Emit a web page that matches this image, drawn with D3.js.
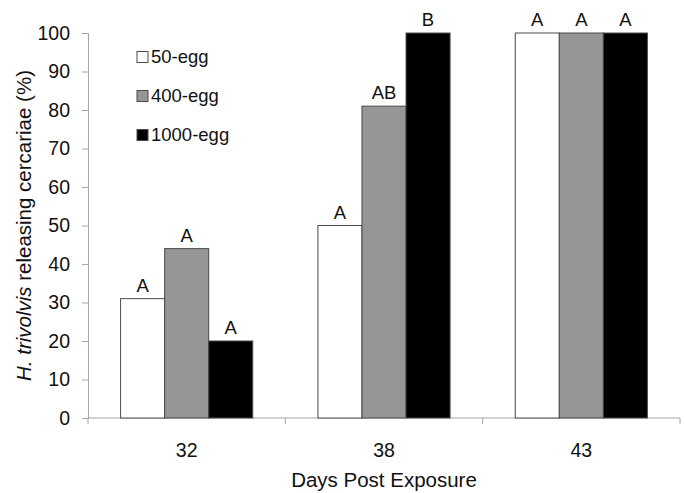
<!DOCTYPE html>
<html>
<head>
<meta charset="utf-8">
<script src="https://cdn.jsdelivr.net/npm/d3@7"></script>
<style>
	body { margin: 0; background: #fff; }
	svg { display: block; font-family: "Liberation Sans", Arial, sans-serif; }
</style>
</head>
<body>
<div id="chart"></div>
<script>
// Data
const days = ["32", "38", "43"];
const groups = ["50-egg", "400-egg", "1000-egg"];
const egg50 = [31, 50, 100];
const egg400 = [44, 81, 100];
const egg1000 = [20, 100, 100];
const letters50 = ["A", "A", "A"];
const letters400 = ["A", "AB", "A"];
const letters1000 = ["A", "B", "A"];
const yTicks = [0, 10, 20, 30, 40, 50, 60, 70, 80, 90, 100];

const width = 685,
		height = 493,
		margin = {top: 33, right: 5, bottom: 75, left: 88},
		colors = ["#ffffff", "#969696", "#000000"];

const series = [egg50, egg400, egg1000];
const letterSets = [letters50, letters400, letters1000];

const svg = d3.select("#chart")
	.append("svg")
		.attr("width", width)
		.attr("height", height);

const x = d3.scaleBand()
	.domain(days)
	.range([margin.left, width - margin.right]);

// bars are ~44px wide inside a ~197px category
const xInner = d3.scaleBand()
	.domain(groups)
	.range([0, x.bandwidth()])
	.paddingOuter(0.74)
	.paddingInner(0);

const y = d3.scaleLinear()
	.domain([0, 100])
	.range([height - margin.bottom, margin.top]);

// Y axis
const yAxis = svg.append("g")
	.attr("transform", `translate(${margin.left},0)`)
	.call(d3.axisLeft(y).tickValues(yTicks).tickSize(6).tickPadding(12));

yAxis.select(".domain").attr("stroke", "#a6a6a6");
yAxis.selectAll(".tick line").attr("stroke", "#a6a6a6");
yAxis.selectAll(".tick text")
	.attr("fill", "#111")
	.style("font-size", "19.5px");

// X axis: ticks at the category boundaries
const xAxis = svg.append("g")
	.attr("transform", `translate(0,${y(0)})`);

xAxis.append("line")
	.attr("x1", margin.left)
	.attr("x2", width - margin.right)
	.attr("stroke", "#a6a6a6");

const bounds = days.map((d) => x(d)).concat([x(days[days.length - 1]) + x.bandwidth()]);

xAxis.selectAll(".bound")
	.data(bounds)
	.enter()
	.append("line")
		.attr("class", "bound")
		.attr("x1", (d) => d)
		.attr("x2", (d) => d)
		.attr("y1", 0)
		.attr("y2", 6)
		.attr("stroke", "#a6a6a6");

xAxis.selectAll(".day")
	.data(days)
	.enter()
	.append("text")
		.attr("class", "day")
		.attr("x", (d) => x(d) + x.bandwidth() / 2)
		.attr("y", 39)
		.attr("text-anchor", "middle")
		.attr("fill", "#111")
		.style("font-size", "19.5px")
		.text((d) => d);

// Bars
days.forEach((day, i) => {
	const g = svg.append("g")
		.attr("transform", `translate(${x(day)},0)`);

	groups.forEach((grp, j) => {
		const v = series[j][i];
		g.append("rect")
			.attr("x", xInner(grp))
			.attr("y", y(v))
			.attr("width", xInner.bandwidth())
			.attr("height", y(0) - y(v))
			.attr("fill", colors[j])
			.attr("stroke", "#4a4a4a")
			.attr("stroke-width", 1);

		g.append("text")
			.attr("x", xInner(grp) + xInner.bandwidth() / 2)
			.attr("y", y(v) - 7)
			.attr("text-anchor", "middle")
			.attr("fill", "#111")
			.style("font-size", "18.5px")
			.text(letterSets[j][i]);
	});
});

// Legend
const legend = svg.append("g")
	.attr("transform", "translate(137,57)");

legend.selectAll("g")
	.data(groups)
	.enter()
	.append("g")
		.attr("transform", (d, i) => `translate(0,${i * 39})`)
		.each(function(d, i) {
			const item = d3.select(this);
			item.append("rect")
				.attr("x", 0)
				.attr("y", -5.5)
				.attr("width", 11)
				.attr("height", 11)
				.attr("fill", colors[i])
				.attr("stroke", "#4a4a4a");
			item.append("text")
				.attr("x", 14)
				.attr("y", 0)
				.attr("dy", "0.35em")
				.attr("fill", "#111")
				.style("font-size", "18.5px")
				.text(d);
		});

// Axis titles
svg.append("text")
	.attr("x", margin.left + (width - margin.right - margin.left) / 2)
	.attr("y", 487)
	.attr("text-anchor", "middle")
	.attr("fill", "#111")
	.style("font-size", "20.5px")
	.text("Days Post Exposure");

const yTitle = svg.append("text")
	.attr("transform", `translate(31,${(y(0) + y(100)) / 2}) rotate(-90)`)
	.attr("text-anchor", "middle")
	.attr("fill", "#111")
	.style("font-size", "20.5px");

yTitle.append("tspan")
	.style("font-style", "italic")
	.text("H. trivolvis");
yTitle.append("tspan")
	.text(" releasing cercariae (%)");
</script>
</body>
</html>
